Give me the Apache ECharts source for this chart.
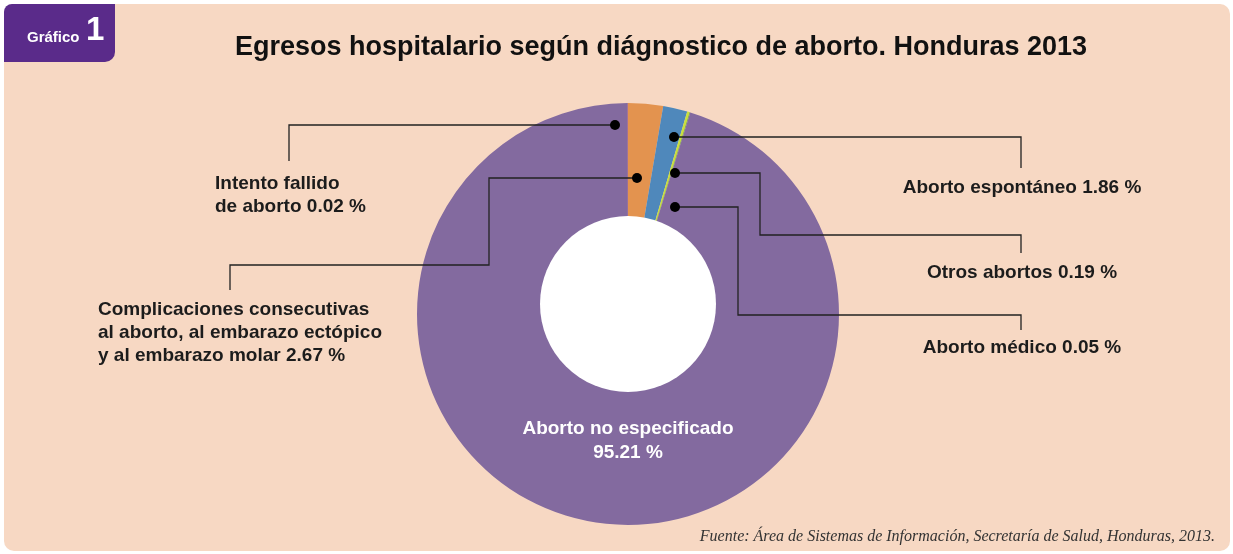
<!DOCTYPE html>
<html>
<head>
<meta charset="utf-8">
<script src="https://cdn.jsdelivr.net/npm/echarts@6/dist/echarts.min.js"></script>
<style>
  html, body { margin: 0; padding: 0; background: #fff; }
  #main { width: 1233px; height: 554px; }
</style>
</head>
<body>
<div id="main"></div>
<script>
// datos del gráfico (orden horario desde las 12)
let categorias = [
  'Complicaciones consecutivas\nal aborto, al embarazo ectópico\ny al embarazo molar',
  'Aborto espontáneo',
  'Otros abortos',
  'Aborto médico',
  'Aborto no especificado',
  'Intento fallido\nde aborto'
];
let porcentajes = [2.67, 1.86, 0.19, 0.05, 95.21, 0.02];
let colores = ['#e3934f', '#4f88bb', '#c9df3c', '#5f9a3e', '#836a9f', '#b0415f'];

let chart = echarts.init(document.getElementById('main'));

let font = '"Liberation Sans", Arial, sans-serif';
let etiqueta = function (i) {
  return categorias[i] + ' ' + porcentajes[i].toFixed(2) + ' %';
};
let txt = function (x, y, text, align) {
  return {
    type: 'text', x: x, y: y, z: 10,
    style: {
      text: text, fill: '#1c1c1c', font: 'bold 19px ' + font,
      align: align, verticalAlign: 'top', lineHeight: 23
    }
  };
};
let linea = function (pts) {
  return {
    type: 'polyline', z: 10,
    shape: { points: pts },
    style: { stroke: '#222', lineWidth: 1.3, fill: null }
  };
};
let punto = function (x, y) {
  return { type: 'circle', z: 11, shape: { cx: x, cy: y, r: 5 }, style: { fill: '#000' } };
};

let option = {
  backgroundColor: '#ffffff',
  animation: false,
  graphic: [
    // tarjeta
    { type: 'rect', z: 0, shape: { x: 4, y: 4, width: 1226, height: 547, r: 10 }, style: { fill: '#f7d8c3' } },
    { type: 'rect', z: 1, shape: { x: 4, y: 4, width: 111, height: 58, r: [8, 0, 10, 0] }, style: { fill: '#5a2b8a' } },
    { type: 'text', z: 2, x: 27, y: 45, style: { text: 'Gráfico', fill: '#fff', font: 'bold 15px ' + font, verticalAlign: 'bottom' } },
    { type: 'text', z: 2, x: 86, y: 47, style: { text: '1', fill: '#fff', font: 'bold 33px ' + font, verticalAlign: 'bottom' } },
    { type: 'text', z: 2, x: 661, y: 48, style: { text: 'Egresos hospitalario según diágnostico de aborto. Honduras 2013', fill: '#111', font: 'bold 27px ' + font, align: 'center', verticalAlign: 'middle' } },
    // hueco
    { type: 'circle', z: 5, shape: { cx: 628, cy: 304, r: 88 }, style: { fill: '#ffffff' } },
    // líneas guía
    linea([[615, 125], [289, 125], [289, 161]]),
    punto(615, 125),
    txt(215, 172, etiqueta(5), 'left'),
    linea([[637, 178], [489, 178], [489, 265], [230, 265], [230, 290]]),
    punto(637, 178),
    txt(98, 298, etiqueta(0), 'left'),
    linea([[674, 137], [1021, 137], [1021, 168]]),
    punto(674, 137),
    txt(1022, 176, etiqueta(1), 'center'),
    linea([[675, 173], [760, 173], [760, 235], [1021, 235], [1021, 253]]),
    punto(675, 173),
    txt(1022, 261, etiqueta(2), 'center'),
    linea([[675, 207], [738, 207], [738, 315], [1021, 315], [1021, 330]]),
    punto(675, 207),
    txt(1022, 336, etiqueta(3), 'center'),
    {
      type: 'text', z: 10, x: 628, y: 417,
      style: {
        text: categorias[4] + '\n' + porcentajes[4].toFixed(2) + ' %',
        fill: '#fff', font: 'bold 19px ' + font, align: 'center', verticalAlign: 'top', lineHeight: 24
      }
    },
    {
      type: 'text', z: 10, x: 1215, y: 537,
      style: {
        text: 'Fuente: Área de Sistemas de Información, Secretaría de Salud, Honduras, 2013.',
        fill: '#333', font: 'italic 16px "Liberation Serif", "DejaVu Serif", serif', align: 'right', verticalAlign: 'middle'
      }
    }
  ],
  series: [
    {
      type: 'pie',
      center: [628, 314],
      radius: [0, 211],
      startAngle: 90,
      clockwise: true,
      minAngle: 0,
      avoidLabelOverlap: false,
      silent: true,
      z: 3,
      label: { show: false },
      labelLine: { show: false },
      itemStyle: { borderWidth: 0 },
      data: categorias.map(function (c, i) {
        return { name: c, value: porcentajes[i], itemStyle: { color: colores[i] } };
      })
    }
  ]
};

chart.setOption(option);
</script>
</body>
</html>
